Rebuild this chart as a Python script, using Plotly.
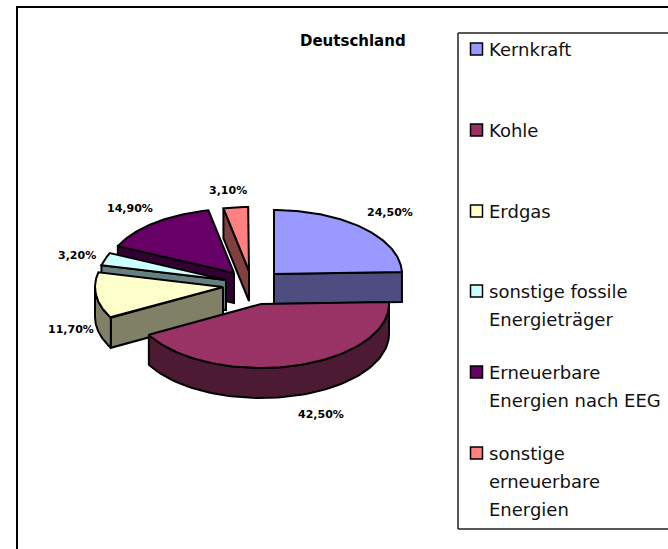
import numpy as np
import plotly.graph_objects as go

# --- data ---
title = "Deutschland"
categories = ["Kernkraft", "Kohle", "Erdgas", "sonstige fossile<br>Energieträger",
              "Erneuerbare<br>Energien nach EEG", "sonstige<br>erneuerbare<br>Energien"]
shares = [24.5, 42.5, 11.7, 3.2, 14.9, 3.1]
value_labels = ["24,50%", "42,50%", "11,70%", "3,20%", "14,90%", "3,10%"]
top_colors = ["#9999FF", "#993366", "#FFFFCC", "#CCFFFF", "#660066", "#FF8080"]
side_colors = ["#4D4D80", "#4D1A33", "#808066", "#668080", "#330033", "#804040"]

# --- layout of the drawing (pixel space of the 668x549 page) ---
W, H = 668, 549
RX, RY, DEPTH = 128, 64, 30
apex = [(274, 274), (261, 304), (223, 287), (226, 280), (234, 273), (249, 271)]
label_pos = [(390, 212), (321, 414), (71, 329), (77, 255), (130, 208), (228, 190)]
draw_order = [5, 0, 4, 3, 2, 1]
legend_y = [49, 130, 211, 291, 372, 453]
LINE_STEP = 28

fig = go.Figure()


def rim_point(c, deg):
    t = np.radians(deg)
    return c[0] + RX * np.sin(t), c[1] - RY * np.cos(t)


def poly(xs, ys, color):
    fig.add_trace(go.Scatter(x=list(xs), y=list(ys), mode="lines", fill="toself",
                             fillcolor=color, line=dict(color="black", width=2),
                             hoverinfo="skip", showlegend=False))


edges = np.concatenate([[0], np.cumsum(shares) * 3.6])
for i in draw_order:
    a, b = edges[i], edges[i + 1]
    c = apex[i]
    # visible straight side walls
    if a > 180:
        px, py = rim_point(c, a)
        poly([c[0], px, px, c[0], c[0]], [c[1], py, py + DEPTH, c[1] + DEPTH, c[1]], side_colors[i])
    if b < 180:
        px, py = rim_point(c, b)
        poly([c[0], px, px, c[0], c[0]], [c[1], py, py + DEPTH, c[1] + DEPTH, c[1]], side_colors[i])
    # visible curved wall
    lo, hi = max(a, 90), min(b, 270)
    if hi > lo:
        t = np.linspace(lo, hi, 80)
        x, y = rim_point(c, t)
        poly(np.r_[x, x[::-1], x[0]], np.r_[y, y[::-1] + DEPTH, y[0]], side_colors[i])
    # top face
    t = np.linspace(a, b, 80)
    x, y = rim_point(c, t)
    poly(np.r_[c[0], x, c[0]], np.r_[c[1], y, c[1]], top_colors[i])

# legend swatches
fig.add_trace(go.Scatter(x=[476.5] * len(categories), y=legend_y, mode="markers",
                         marker=dict(symbol="square", size=12, color=top_colors,
                                     line=dict(color="black", width=1.5)),
                         hoverinfo="skip", showlegend=False))

annotations = []
for (x, y), txt in zip(label_pos, value_labels):
    annotations.append(dict(x=x, y=y, text=txt, showarrow=False, xanchor="center", yanchor="middle",
                            font=dict(family="DejaVu Sans", size=11, color="black", weight="bold")))
annotations.append(dict(x=353, y=41, text=title, showarrow=False, xanchor="center", yanchor="middle",
                        font=dict(family="DejaVu Sans", size=15, color="black", weight="bold")))
for name, y0 in zip(categories, legend_y):
    for k, line in enumerate(name.split("<br>")):
        annotations.append(dict(x=487, y=y0 + k * LINE_STEP, text=line, showarrow=False,
                                xanchor="left", yanchor="middle", align="left",
                                font=dict(family="DejaVu Sans", size=18, color="#111111")))

shapes = [
    dict(type="line", x0=17, x1=W + 5, y0=7, y1=7, line=dict(color="black", width=2)),
    dict(type="line", x0=17, x1=17, y0=6, y1=H + 5, line=dict(color="black", width=2)),
    dict(type="line", x0=458, x1=W + 5, y0=33, y1=33, line=dict(color="#222222", width=1.5)),
    dict(type="line", x0=458, x1=W + 5, y0=529, y1=529, line=dict(color="#222222", width=1.5)),
    dict(type="line", x0=458, x1=458, y0=33, y1=529, line=dict(color="#222222", width=1.5)),
]

fig.update_layout(
    width=W, height=H, margin=dict(l=0, r=0, t=0, b=0),
    paper_bgcolor="white", plot_bgcolor="white", showlegend=False,
    xaxis=dict(range=[0, W], visible=False, fixedrange=True),
    yaxis=dict(range=[H, 0], visible=False, fixedrange=True),
    annotations=annotations, shapes=shapes,
)
fig.write_html("out.html", config=dict(displayModeBar=False),
               post_script="document.body.style.margin='0';document.body.style.overflow='hidden';")
